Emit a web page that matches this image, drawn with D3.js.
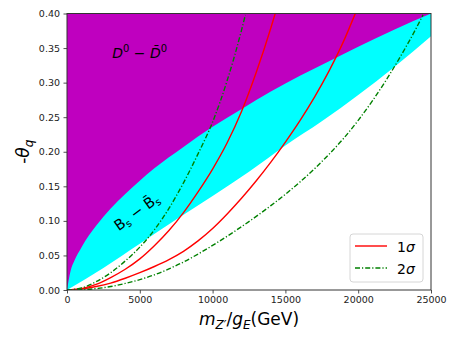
<!DOCTYPE html>
<html lang="en">
<head>
<meta charset="UTF-8">
<title>Z' mixing constraints</title>
<script src="https://cdnjs.cloudflare.com/ajax/libs/d3/7.8.5/d3.min.js"></script>
<style>
  body { margin: 0; background: #fff; }
  svg { font-family: "DejaVu Sans", sans-serif; }
</style>
</head>
<body>
<div id="chart"></div>
<script>
// axis ticks
var xTicks = [0, 5000, 10000, 15000, 20000, 25000];
var yTicks = [0, 0.05, 0.10, 0.15, 0.20, 0.25, 0.30, 0.35, 0.40];

// D0 - D0bar boundary (magenta region is above it)
var dBoundX = [0, 250, 500, 1000, 1500, 2000, 3000, 4000, 5000, 6000, 7000, 8000, 10000, 12000, 14000, 16000, 18000, 20000, 22500, 25000];
var dBoundY = [0, 0.028, 0.042, 0.062, 0.079, 0.093, 0.118, 0.139, 0.158, 0.176, 0.192, 0.207, 0.236, 0.262, 0.287, 0.310, 0.331, 0.352, 0.377, 0.400];

// Bs - Bsbar lower boundary (cyan region is above it)
var bsLowX = [0, 2500, 5000, 7500, 10000, 12500, 15000, 17500, 20000, 22500, 25000];
var bsLowY = [0, 0.032, 0.067, 0.102, 0.136, 0.171, 0.209, 0.244, 0.282, 0.323, 0.367];

// 1 sigma curves
var red1X = [0, 1000, 2000, 3000, 4000, 5000, 6000, 7000, 8000, 9000, 10000, 11000, 12000, 13000, 14000, 14300];
var red1Y = [0, 0.002, 0.008, 0.018, 0.030, 0.045, 0.064, 0.086, 0.112, 0.142, 0.175, 0.213, 0.259, 0.315, 0.379, 0.400];
var red2X = [0, 1000, 2000, 3000, 4000, 5000, 6000, 7000, 8000, 9000, 10000, 11000, 12000, 13000, 14000, 15000, 16000, 17000, 18000, 19000, 19800];
var red2Y = [0, 0.0015, 0.005, 0.010, 0.017, 0.025, 0.034, 0.044, 0.056, 0.071, 0.089, 0.110, 0.133, 0.158, 0.185, 0.214, 0.245, 0.279, 0.317, 0.360, 0.400];

// 2 sigma curves
var green1X = [0, 1000, 2000, 3000, 4000, 5000, 6000, 7000, 8000, 9000, 10000, 11000, 12000, 12250];
var green1Y = [0, 0.003, 0.012, 0.025, 0.042, 0.062, 0.087, 0.118, 0.155, 0.197, 0.243, 0.303, 0.377, 0.398];
var green2X = [0, 1000, 2000, 3000, 4000, 5000, 6000, 7000, 8000, 9000, 10000, 11000, 12000, 13000, 14000, 15000, 16000, 17000, 18000, 19000, 20000, 21000, 22000, 23000, 24000, 24450];
var green2Y = [0, 0.0005, 0.002, 0.005, 0.0095, 0.015, 0.022, 0.0305, 0.0405, 0.052, 0.0645, 0.0778, 0.0918, 0.1065, 0.122, 0.1385, 0.1562, 0.1754, 0.1964, 0.2194, 0.2454, 0.2744, 0.3064, 0.3414, 0.3794, 0.398];

function pts(xs, ys) {
    return xs.map(function(d, i) { return {x: d, y: ys[i]}; });
}

var W = 457, H = 342;
var margin = {top: 13.5, right: 26, bottom: 52, left: 67};
var width = W - margin.left - margin.right,
    height = H - margin.top - margin.bottom;

var svg = d3.select("#chart").append("svg")
    .attr("width", W)
    .attr("height", H);

var g = svg.append("g")
    .attr("transform", "translate(" + margin.left + "," + margin.top + ")");

var x = d3.scaleLinear().domain([0, 25000]).range([0, width]);
var y = d3.scaleLinear().domain([0, 0.40]).range([height, 0]);

g.append("clipPath").attr("id", "plotClip")
    .append("rect").attr("width", width).attr("height", height);

var plot = g.append("g").attr("clip-path", "url(#plotClip)");

var topArea = d3.area()
    .x(function(d) { return x(d.x); })
    .y0(y(0.40))
    .y1(function(d) { return y(d.y); })
    .curve(d3.curveMonotoneX);

// cyan band first, then magenta covers the upper part
plot.append("path")
    .datum(pts(bsLowX, bsLowY))
    .attr("fill", "#00ffff")
    .attr("d", topArea);

plot.append("path")
    .datum(pts(dBoundX, dBoundY))
    .attr("fill", "#bf00bf")
    .attr("d", topArea);

var line = d3.line()
    .x(function(d) { return x(d.x); })
    .y(function(d) { return y(d.y); })
    .curve(d3.curveMonotoneX);

var dashDot = "5,2,1.2,2";

[[red1X, red1Y], [red2X, red2Y]].forEach(function(s) {
    plot.append("path")
        .datum(pts(s[0], s[1]))
        .attr("fill", "none")
        .attr("stroke", "#ff0000")
        .attr("stroke-width", 1.4)
        .attr("d", line);
});

[[green1X, green1Y], [green2X, green2Y]].forEach(function(s) {
    plot.append("path")
        .datum(pts(s[0], s[1]))
        .attr("fill", "none")
        .attr("stroke", "#008000")
        .attr("stroke-width", 1.4)
        .attr("stroke-dasharray", dashDot)
        .attr("d", line);
});

// region labels
var dLab = g.append("text")
    .attr("x", x(3100))
    .attr("y", y(0.335))
    .attr("font-size", 14)
    .attr("font-style", "italic");
dLab.append("tspan").text("D");
dLab.append("tspan").attr("font-size", 10).attr("font-style", "normal").attr("dy", -6).text("0");
dLab.append("tspan").attr("font-style", "normal").attr("dy", 6).text(" \u2212 ");
dLab.append("tspan").text("D\u0304");
dLab.append("tspan").attr("font-size", 10).attr("font-style", "normal").attr("dy", -6).text("0");

var bLab = g.append("text")
    .attr("transform", "translate(" + x(3550) + "," + y(0.085) + ") rotate(-36)")
    .attr("font-size", 14.5);
bLab.append("tspan").text("B");
bLab.append("tspan").attr("font-size", 10).attr("dy", 3).text("s");
bLab.append("tspan").attr("dy", -3).text(" \u2212 ");
bLab.append("tspan").text("B\u0304");
bLab.append("tspan").attr("font-size", 10).attr("dy", 3).text("s");

// axes
var xAxis = g.append("g")
    .attr("transform", "translate(0," + height + ")")
    .call(d3.axisBottom(x).tickValues(xTicks).tickFormat(d3.format("d"))
        .tickSizeInner(3.5).tickSizeOuter(0).tickPadding(3));
var yAxis = g.append("g")
    .call(d3.axisLeft(y).tickValues(yTicks).tickFormat(d3.format(".2f"))
        .tickSizeInner(3.5).tickSizeOuter(0).tickPadding(3.5));

[xAxis, yAxis].forEach(function(a) {
    a.select(".domain").remove();
    a.selectAll("line").attr("stroke", "#222").attr("stroke-width", 0.8);
    a.selectAll("text").attr("font-size", 9.5).attr("fill", "#222")
        .attr("font-family", "DejaVu Sans, sans-serif");
});

g.append("rect")
    .attr("width", width).attr("height", height)
    .attr("fill", "none").attr("stroke", "#333").attr("stroke-width", 1);

// axis labels
var xl = svg.append("text")
    .attr("x", margin.left + width / 2)
    .attr("y", 325)
    .attr("text-anchor", "middle")
    .attr("font-size", 17);
xl.append("tspan").attr("font-style", "italic").text("m");
xl.append("tspan").attr("font-style", "italic").attr("font-size", 12).attr("dy", 4).text("Z\u2032");
xl.append("tspan").attr("dy", -4).text("/");
xl.append("tspan").attr("font-style", "italic").text("g");
xl.append("tspan").attr("font-style", "italic").attr("font-size", 12).attr("dy", 4).text("E");
xl.append("tspan").attr("dy", -4).text("(GeV)");

var yl = svg.append("text")
    .attr("transform", "translate(29," + (margin.top + height / 2) + ") rotate(-90)")
    .attr("text-anchor", "middle")
    .attr("font-size", 17);
yl.append("tspan").text("-");
yl.append("tspan").attr("font-style", "italic").text("\u03b8");
yl.append("tspan").attr("font-style", "italic").attr("font-size", 12).attr("dy", 4).text("q");

// legend
var leg = g.append("g").attr("transform", "translate(" + (width - 81) + "," + (height - 56) + ")");
leg.append("rect")
    .attr("width", 73).attr("height", 48).attr("rx", 3)
    .attr("fill", "#fff").attr("fill-opacity", 0.8)
    .attr("stroke", "#ccc").attr("stroke-width", 0.8);

var legItems = [
    {label: "1", color: "#ff0000", dash: null},
    {label: "2", color: "#008000", dash: dashDot}
];
legItems.forEach(function(d, i) {
    var row = leg.append("g").attr("transform", "translate(0," + (12 + i * 22) + ")");
    row.append("line")
        .attr("x1", 5).attr("x2", 37)
        .attr("stroke", d.color).attr("stroke-width", 1.4)
        .attr("stroke-dasharray", d.dash);
    var t = row.append("text").attr("x", 47).attr("y", 5.5).attr("font-size", 14);
    t.append("tspan").text(d.label);
    t.append("tspan").attr("font-style", "italic").text("\u03c3");
});
</script>
</body>
</html>
